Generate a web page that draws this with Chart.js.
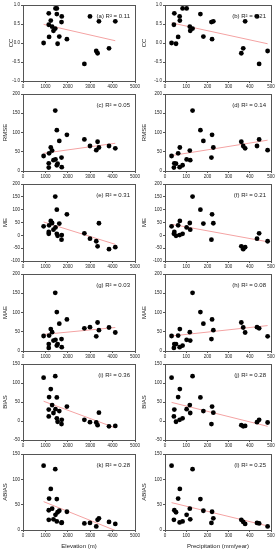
<!DOCTYPE html>
<html>
<head>
<meta charset="utf-8">
<script src="https://cdn.jsdelivr.net/npm/chart.js@4.4.0/dist/chart.umd.min.js"></script>
<style>
  body { margin: 0; background: #fff; width: 278px; height: 550px; overflow: hidden; position: relative; }
  canvas { position: absolute; }
</style>
</head>
<body>
<script>
// one entry per station
var elevation = [920, 1150, 1150, 1165, 1240, 1300, 1360, 1440, 1450, 1510, 1510, 1545, 1620, 1730, 1720, 1960, 2740, 2990, 3270, 3330, 3390, 3840, 4120];
var precipitation = [31, 44, 42, 62, 70, 117, 119, 130, 102, 83, 167, 52, 181, 69, 219, 222, 444, 434, 484, 360, 228, 369, 378];
var cc = [0.00, 0.78, 0.48, 0.16, 0.59, 0.43, 0.32, 0.38, 0.91, 0.91, 0.76, -0.02, 0.17, 0.70, 0.55, 0.10, -0.55, 0.70, -0.21, -0.27, 0.57, -0.14, 0.57];
var rmse = [39, 20, 9, 46, 61, 53, 28, 157, 30, 15, 106, 19, 78, 10, 35, 94, 82, 65, 54, 76, 61, 65, 59];
var me = [35, 13, 6, 39, 56, 48, 22, 151, 31, 6, 100, -2, 46, 1, -17, 82, 8, -13, -23, -43, 47, -54, -46];
var mae = [39, 18, 8, 40, 57, 49, 27, 151, 29, 14, 101, 18, 71, 10, 31, 82, 59, 62, 38, 74, 54, 61, 48];
var bias = [114, 30, 12, 63, 84, 42, 21, 118, 31, 7, 62, -2, 26, 3, -8, 38, 3, -3, -4, -11, 22, -14, -13];
var abias = [127, 39, 20, 62, 81, 42, 21, 120, 30, 17, 61, 35, 38, 15, 14, 36, 13, 14, 7, 20, 23, 16, 12];

var metricNames = ['CC', 'RMSE', 'ME', 'MAE', 'BIAS', 'ABIAS'];
var metricValues = [cc, rmse, me, mae, bias, abias];
var yMin = [-1, 0, -100, 0, -50, 0];
var yMax = [1, 200, 200, 200, 150, 150];
var yStep = [0.5, 50, 50, 50, 50, 50];

var r2Elev = [0.11, 0.05, 0.31, 0.03, 0.36, 0.28];
var r2Prec = [0.21, 0.14, 0.21, 0.08, 0.28, 0.25];
var panelLetters = ['a', 'b', 'c', 'd', 'e', 'f', 'g', 'h', 'i', 'j', 'k', 'l'];

// fitted line, value at the first and last station
var fitElev = [[0.49, 0.06], [46, 72], [52, -35], [43, 61], [52, -18], [56, -1]];
var fitPrec = [[0.53, -0.02], [40, 80], [43, -25], [39, 66], [49, -14], [54, 8]];
var elevRange = [920, 4120];
var precRange = [31, 484];

var xTitles = ['Elevation (m)', 'Precipitation (mm/year)'];
var xMax = [5000, 500];
var xStep = [1000, 100];

var FONT = 'Arial, "Liberation Sans", sans-serif';
var TXT = '#222';
var AXIS = '#555';

// panel letter and R2 text in the top right corner
var labelPlugin = {
    id: 'r2label',
    afterDraw: function (chart) {
        var a = chart.chartArea, ctx = chart.ctx;
        var o = chart.options.plugins.r2label;
        ctx.save();
        ctx.fillStyle = TXT;
        ctx.font = '6px ' + FONT;
        ctx.textAlign = 'right';
        ctx.textBaseline = 'middle';
        ctx.fillText('(' + o.letter + ') R\u00b2 = ' + o.r2.toFixed(2), a.right - 5, a.top + 11);
        ctx.restore();
    }
};

function makePanel(row, col) {
    var xs = col === 0 ? elevation : precipitation;
    var ys = metricValues[row];
    var fit = col === 0 ? fitElev[row] : fitPrec[row];
    var range = col === 0 ? elevRange : precRange;
    var last = row === 5;

    var cv = document.createElement('canvas');
    cv.width = col === 0 ? 150 : 140;
    cv.height = 100;
    cv.style.left = (col === 0 ? 0 : 138) + 'px';
    cv.style.top = (90 * row) + 'px';
    document.body.appendChild(cv);

    var top = row === 0 ? 5 : 4;
    var bottom = row >= 4 ? 80 : 81;
    var yTitlePad = col === 0 ? (row === 0 ? 8 : 2) : 3;
    var tickGrid = {display: true, drawOnChartArea: false, drawTicks: true, tickLength: 2, color: AXIS};
    var edge = {display: true, color: AXIS, width: 1};

    new Chart(cv.getContext('2d'), {
        type: 'scatter',
        data: {
            datasets: [{
                data: xs.map(function (x, i) { return {x: x, y: ys[i]}; }),
                backgroundColor: '#000',
                borderWidth: 0,
                pointRadius: 2.4
            }, {
                data: [{x: range[0], y: fit[0]}, {x: range[1], y: fit[1]}],
                showLine: true,
                borderColor: '#f4a3a3',
                borderWidth: 1,
                pointRadius: 0
            }]
        },
        options: {
            responsive: false,
            animation: false,
            devicePixelRatio: 1,
            layout: {padding: {top: top, right: col === 0 ? 15 : 7, left: 0, bottom: 0}},
            plugins: {
                legend: {display: false},
                tooltip: {enabled: false},
                r2label: {letter: panelLetters[row * 2 + col], r2: col === 0 ? r2Elev[row] : r2Prec[row]}
            },
            scales: {
                x: {
                    type: 'linear',
                    position: 'bottom',
                    min: 0,
                    max: xMax[col],
                    grid: tickGrid,
                    border: edge,
                    ticks: {
                        stepSize: xStep[col], padding: 1, color: TXT, font: {size: 4.5, family: FONT}, maxRotation: 0, autoSkip: false,
                        callback: function (v) { return String(v); }
                    },
                    title: {display: last, text: xTitles[col], color: TXT, font: {size: 6, family: FONT}, padding: {top: 0, bottom: 0}},
                    afterFit: function (s) { s.height = 100 - bottom; }
                },
                xTop: {
                    type: 'linear',
                    position: 'top',
                    min: 0,
                    max: xMax[col],
                    grid: {display: false},
                    border: edge,
                    ticks: {display: false},
                    afterFit: function (s) { s.height = 0; }
                },
                y: {
                    position: 'left',
                    min: yMin[row],
                    max: yMax[row],
                    grid: tickGrid,
                    border: edge,
                    ticks: {
                        stepSize: yStep[row], padding: 1, color: TXT, font: {size: 4.5, family: FONT},
                        callback: function (v) { return row === 0 ? v.toFixed(1) : String(v); }
                    },
                    title: {display: true, text: metricNames[row], color: TXT, font: {size: 6, family: FONT}, padding: {top: yTitlePad, bottom: 0}},
                    afterFit: function (s) { s.width = col === 0 ? 23 : 27; }
                },
                yRight: {
                    position: 'right',
                    min: yMin[row],
                    max: yMax[row],
                    grid: {display: false},
                    border: edge,
                    ticks: {display: false},
                    afterFit: function (s) { s.width = 0; }
                }
            }
        },
        plugins: [labelPlugin]
    });
}

for (var r = 0; r < 6; r++) {
    makePanel(r, 0);
    makePanel(r, 1);
}
</script>
</body>
</html>
